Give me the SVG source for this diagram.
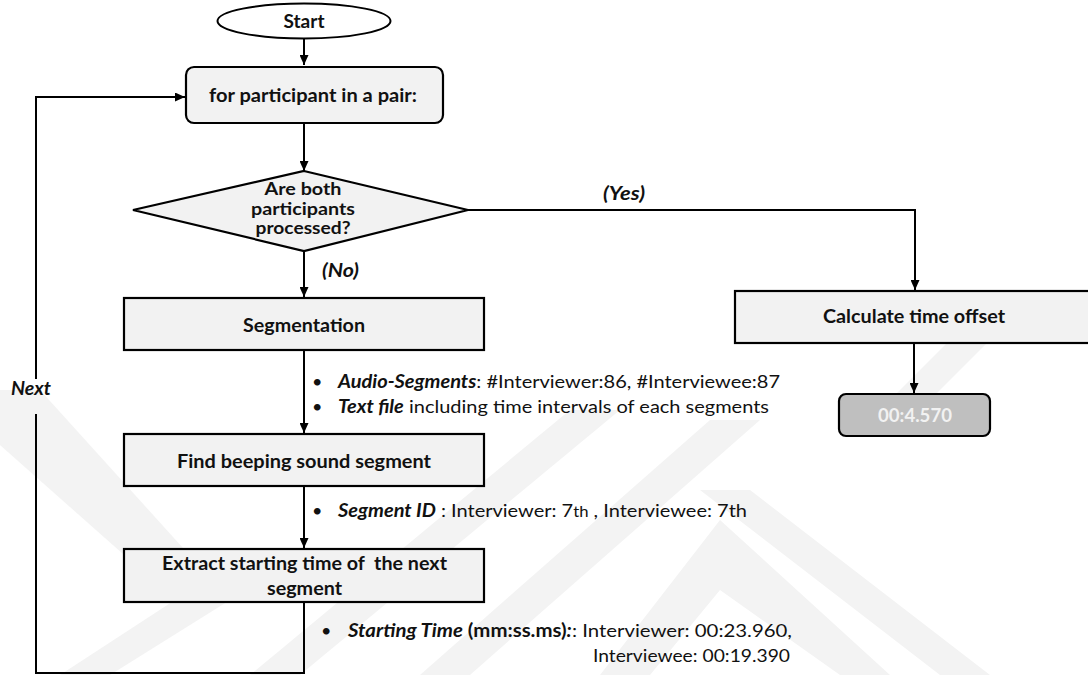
<svg xmlns="http://www.w3.org/2000/svg" width="1088" height="675" viewBox="0 0 1088 675">
<style>
.box{fill:#f2f2f2;stroke:#000;stroke-width:2.2}
.title{font-family:Lato,"Liberation Sans",sans-serif;font-weight:bold;font-size:18.5px;fill:#111;text-anchor:middle}
.dtitle{font-family:Lato,"Liberation Sans",sans-serif;font-weight:bold;font-size:16.5px;fill:#111;text-anchor:middle}
.lbl{font-family:Lato,"Liberation Sans",sans-serif;font-weight:bold;font-style:italic;font-size:18px;fill:#111}
.ann{font-family:Lato,"Liberation Sans",sans-serif;font-size:18px;fill:#111}
.bi{font-weight:bold;font-style:italic}
.b{font-weight:bold}
.con{fill:none;stroke:#000;stroke-width:2}
.wm{fill:#f3f3f3}
</style>
<defs>
<marker id="arr" markerUnits="userSpaceOnUse" markerWidth="10" markerHeight="9" refX="10" refY="4.5" orient="auto">
<path d="M0,0 L10,4.5 L0,9 z" fill="#000"/>
</marker>
</defs>
<rect width="1088" height="675" fill="#fff"/>
<g id="watermark">
<polygon class="wm" points="0,390 40,390 230,600 110,675 60,675 175,600 0,445"/>
<polygon class="wm" points="250,675 300,675 620,410 570,410"/>
<polygon class="wm" points="420,675 470,675 760,420 710,420"/>
<polygon class="wm" points="600,675 650,675 720,590 840,675 890,675 720,520"/>
<polygon class="wm" points="700,490 750,490 990,675 940,675"/>
<polygon class="wm" points="860,430 900,430 1000,330 960,330"/>
</g>
<g id="connectors">
<line class="con" x1="304" y1="38" x2="304" y2="65" marker-end="url(#arr)"/>
<line class="con" x1="304" y1="123" x2="304" y2="171" marker-end="url(#arr)"/>
<line class="con" x1="304" y1="251" x2="304" y2="297" marker-end="url(#arr)"/>
<path class="con" d="M468,210 H915 V290" marker-end="url(#arr)"/>
<line class="con" x1="304" y1="350" x2="304" y2="433" marker-end="url(#arr)"/>
<line class="con" x1="304" y1="486" x2="304" y2="548" marker-end="url(#arr)"/>
<line class="con" x1="914" y1="343" x2="914" y2="393" marker-end="url(#arr)"/>
<path class="con" d="M304,602 V673 H36 V414"/>
<path class="con" d="M36,379 V97 H185" marker-end="url(#arr)"/>
<text class="lbl" x="322" y="277" textLength="37" lengthAdjust="spacingAndGlyphs">(No)</text>
<text class="lbl" x="603" y="200" textLength="42" lengthAdjust="spacingAndGlyphs">(Yes)</text>
<text class="lbl" x="11" y="395" textLength="40" lengthAdjust="spacingAndGlyphs">Next</text>
</g>
<g id="start">
<ellipse cx="304" cy="21" rx="86.5" ry="17.5" fill="#fff" stroke="#000" stroke-width="2"/>
<text class="title" x="304" y="28" textLength="41" lengthAdjust="spacingAndGlyphs">Start</text>
</g>
<g id="loop">
<rect class="box" x="186" y="67" width="257" height="56" rx="8"/>
<text class="title" x="313" y="102" textLength="208" lengthAdjust="spacingAndGlyphs">for participant in a pair:</text>
</g>
<g id="decision">
<polygon class="box" points="304,171 468,210 304,251 133,210"/>
<text class="dtitle" x="303" y="195" textLength="77" lengthAdjust="spacingAndGlyphs">Are both</text>
<text class="dtitle" x="303" y="214.5" textLength="104" lengthAdjust="spacingAndGlyphs">participants</text>
<text class="dtitle" x="303" y="234" textLength="95" lengthAdjust="spacingAndGlyphs">processed?</text>
</g>
<g id="segmentation">
<rect class="box" x="124" y="298" width="360" height="52"/>
<text class="title" x="304" y="332" textLength="122" lengthAdjust="spacingAndGlyphs">Segmentation</text>
</g>
<g id="seg-notes">
<text class="ann" x="312" y="388">•</text>
<text class="ann" x="338" y="388" textLength="442" lengthAdjust="spacingAndGlyphs"><tspan class="bi">Audio-Segments</tspan>: #Interviewer:86, #Interviewee:87</text>
<text class="ann" x="312" y="413">•</text>
<text class="ann" x="338" y="413" textLength="431" lengthAdjust="spacingAndGlyphs"><tspan class="bi">Text file</tspan> including time intervals of each segments</text>
</g>
<g id="find">
<rect class="box" x="124" y="434" width="360" height="52"/>
<text class="title" x="304" y="468" textLength="254" lengthAdjust="spacingAndGlyphs">Find beeping sound segment</text>
</g>
<g id="find-notes">
<text class="ann" x="312" y="517">•</text>
<text class="ann" x="338" y="517" textLength="409" lengthAdjust="spacingAndGlyphs"><tspan class="bi">Segment ID</tspan> : Interviewer: 7<tspan font-size="15px">th</tspan> , Interviewee: 7th</text>
</g>
<g id="extract">
<rect class="box" x="124" y="549" width="360" height="53"/>
<text class="title" x="304.5" y="570" textLength="285" lengthAdjust="spacingAndGlyphs" xml:space="preserve">Extract starting time of  the next</text>
<text class="title" x="304.5" y="595" textLength="75" lengthAdjust="spacingAndGlyphs">segment</text>
</g>
<g id="extract-notes">
<text class="ann" x="321" y="637">•</text>
<text class="ann" x="348" y="637" textLength="444" lengthAdjust="spacingAndGlyphs"><tspan class="bi">Starting Time</tspan><tspan class="b"> (mm:ss.ms)</tspan><tspan class="bi">:</tspan>: Interviewer: 00:23.960,</text>
<text class="ann" x="790" y="662" text-anchor="end" textLength="197" lengthAdjust="spacingAndGlyphs">Interviewee: 00:19.390</text>
</g>
<g id="calculate">
<rect class="box" x="735" y="291" width="360" height="52"/>
<text class="title" x="914" y="323" textLength="182" lengthAdjust="spacingAndGlyphs">Calculate time offset</text>
</g>
<g id="result">
<rect x="839" y="394" width="151" height="42" rx="7" fill="#bfbfbf" stroke="#000" stroke-width="2.2"/>
<text class="title" x="915" y="422" textLength="74" lengthAdjust="spacingAndGlyphs" style="fill:#f2f2f2">00:4.570</text>
</g>
</svg>
